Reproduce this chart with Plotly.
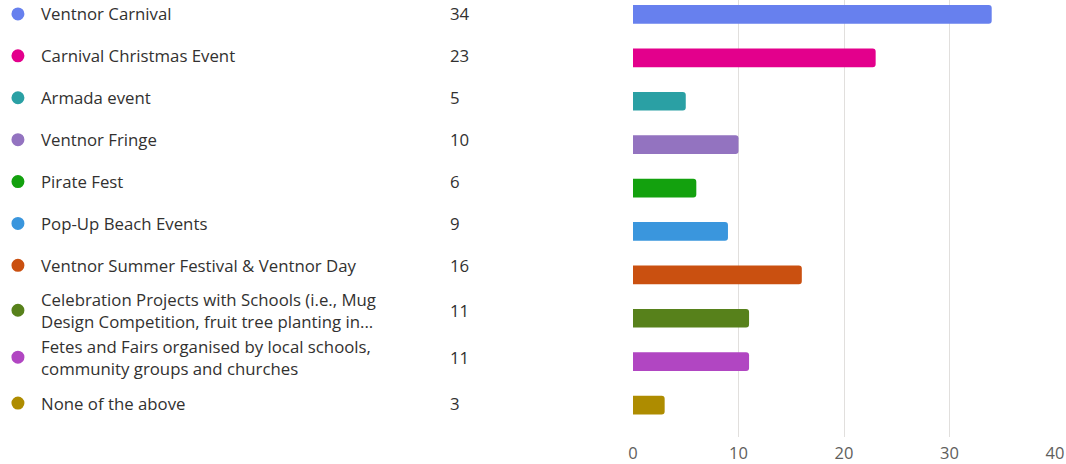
import plotly.graph_objects as go

categories = [
    "Ventnor Carnival",
    "Carnival Christmas Event",
    "Armada event",
    "Ventnor Fringe",
    "Pirate Fest",
    "Pop-Up Beach Events",
    "Ventnor Summer Festival & Ventnor Day",
    "Celebration Projects with Schools (i.e., Mug<br>Design Competition, fruit tree planting in...",
    "Fetes and Fairs organised by local schools,<br>community groups and churches",
    "None of the above",
]
counts = [34, 23, 5, 10, 6, 9, 16, 11, 11, 3]
colors = ["#6780EE", "#E3008C", "#2AA0A4", "#9373C0", "#13A10E",
          "#3A96DD", "#CA5010", "#57811B", "#B146C2", "#AE8C00"]
x_ticks = [0, 10, 20, 30, 40]

# style: vertical pixel offsets of the left-hand list rows relative to bar centres
row_offsets_px = [0.5, 2, 3.5, 5, 6.5, 8, 9.5, 8, 4.5, 2]

idx = list(range(len(categories)))
TEXT = "#323130"
FONT = "Open Sans"

fig = go.Figure()
fig.add_trace(go.Bar(
    x=counts, y=idx, orientation="h",
    marker=dict(color=colors, line=dict(width=0)),
    width=0.43, hoverinfo="x",
))

annotations = []
shapes = []
for i, (lab, n, c, off) in enumerate(zip(categories, counts, colors, row_offsets_px)):
    annotations.append(dict(x=21, y=i, xref="x2", yref="y", text=lab, showarrow=False,
                            xanchor="left", yanchor="middle", align="left", yshift=off,
                            font=dict(family=FONT, size=16.8, color=TEXT)))
    annotations.append(dict(x=432, y=i, xref="x2", yref="y", text=str(n), showarrow=False,
                            xanchor="left", yanchor="middle", yshift=off,
                            font=dict(family=FONT, size=16.8, color=TEXT)))
    shapes.append(dict(type="circle", xref="x2", yref="y", xsizemode="pixel", ysizemode="pixel",
                       xanchor=0, yanchor=i, x0=-6.5, x1=6.5, y0=off - 6.5, y1=off + 6.5,
                       fillcolor=c, line=dict(width=0)))

fig.update_layout(
    width=1066, height=464,
    margin=dict(l=0, r=11, t=0, b=26),
    plot_bgcolor="white", paper_bgcolor="white",
    showlegend=False,
    xaxis=dict(domain=[631 / 1055, 1], range=[0, 40], tickvals=x_ticks,
               showgrid=True, gridcolor="#E1DFDD", gridwidth=1, zeroline=False,
               showline=False, ticks="", ticklabelstandoff=4,
               tickfont=dict(family=FONT, size=16.5, color="#605E5C")),
    xaxis2=dict(domain=[0, 0.55], range=[-13, 1055 * 0.55 - 13], visible=False,
                anchor="y", fixedrange=True),
    yaxis=dict(range=[9.736, -0.333], showticklabels=False, showgrid=False,
               zeroline=False, showline=False, ticks=""),
    annotations=annotations,
    shapes=shapes,
    barcornerradius=3,
)

fig.write_html("out.html", config={"displayModeBar": False},
               post_script="document.body.style.margin='0';document.body.style.overflow='hidden';")
